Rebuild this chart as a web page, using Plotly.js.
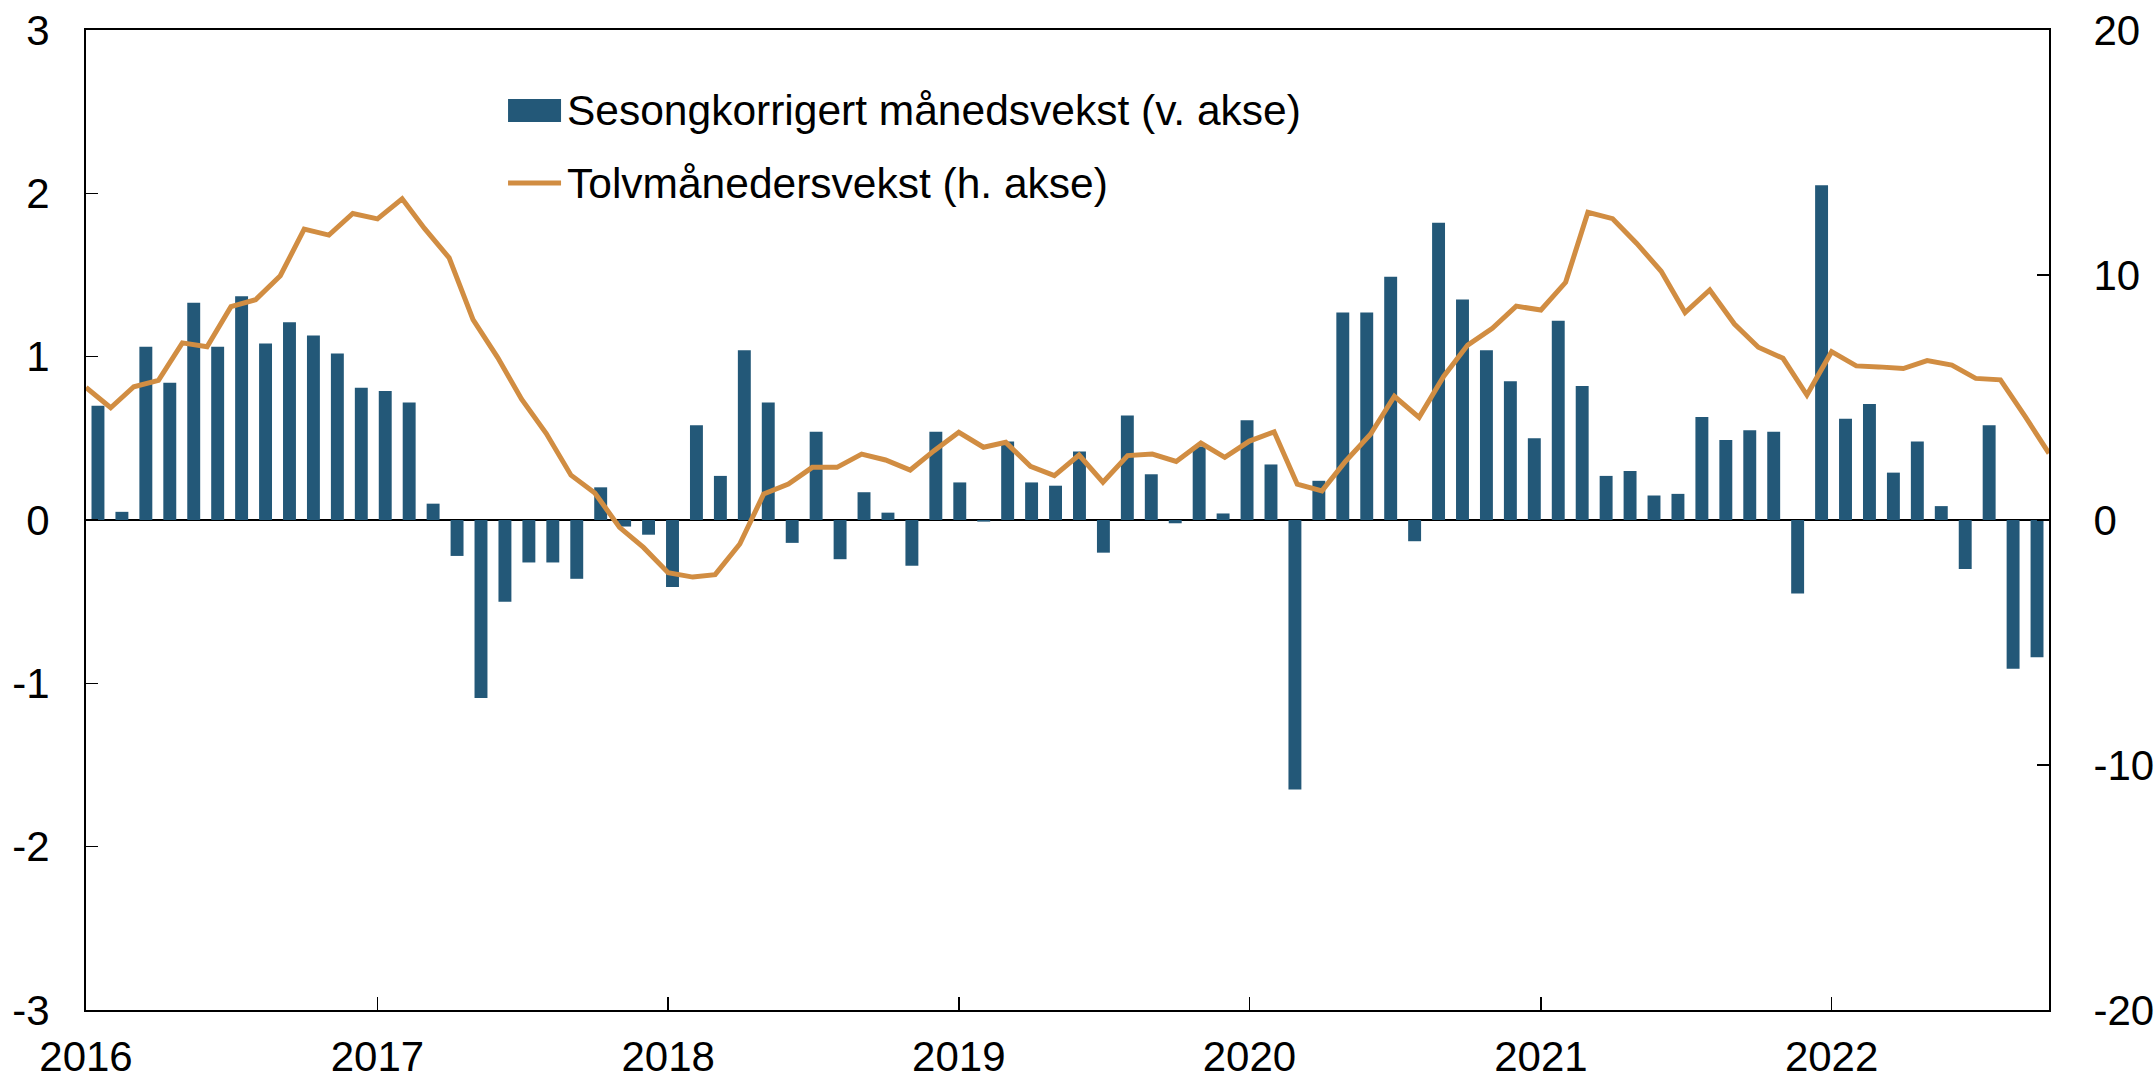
<!DOCTYPE html>
<html>
<head>
<meta charset="utf-8">
<script src="https://cdn.plot.ly/plotly-3.0.1.min.js"></script>
<style>
  html, body { margin: 0; padding: 0; background: #ffffff; overflow: hidden; }
  #chart { width: 2154px; height: 1081px; }
</style>
</head>
<body>
<div id="chart"></div>
<script>
// Months Jan 2016 - Oct 2022
const months = [
  '2016-01','2016-02','2016-03','2016-04','2016-05','2016-06','2016-07','2016-08','2016-09','2016-10','2016-11','2016-12',
  '2017-01','2017-02','2017-03','2017-04','2017-05','2017-06','2017-07','2017-08','2017-09','2017-10','2017-11','2017-12',
  '2018-01','2018-02','2018-03','2018-04','2018-05','2018-06','2018-07','2018-08','2018-09','2018-10','2018-11','2018-12',
  '2019-01','2019-02','2019-03','2019-04','2019-05','2019-06','2019-07','2019-08','2019-09','2019-10','2019-11','2019-12',
  '2020-01','2020-02','2020-03','2020-04','2020-05','2020-06','2020-07','2020-08','2020-09','2020-10','2020-11','2020-12',
  '2021-01','2021-02','2021-03','2021-04','2021-05','2021-06','2021-07','2021-08','2021-09','2021-10','2021-11','2021-12',
  '2022-01','2022-02','2022-03','2022-04','2022-05','2022-06','2022-07','2022-08','2022-09','2022-10'
];

// Sesongkorrigert månedsvekst (venstre akse)
const monthlyGrowth = [
  0.70, 0.05, 1.06, 0.84, 1.33, 1.06, 1.37, 1.08, 1.21, 1.13, 1.02, 0.81,
  0.79, 0.72, 0.10, -0.22, -1.09, -0.50, -0.26, -0.26, -0.36, 0.20, -0.04, -0.09,
  -0.41, 0.58, 0.27, 1.04, 0.72, -0.14, 0.54, -0.24, 0.17, 0.045, -0.28, 0.54,
  0.23, -0.01, 0.48, 0.23, 0.21, 0.42, -0.20, 0.64, 0.28, -0.02, 0.45, 0.04,
  0.61, 0.34, -1.65, 0.24, 1.27, 1.27, 1.49, -0.13, 1.82, 1.35, 1.04, 0.85,
  0.50, 1.22, 0.82, 0.27, 0.30, 0.15, 0.16, 0.63, 0.49, 0.55, 0.54, -0.45,
  2.05, 0.62, 0.71, 0.29, 0.48, 0.085, -0.30, 0.58, -0.91, -0.84
];

// Tolvmånedersvekst (høyre akse)
const yearlyGrowth = [
  5.41, 4.58, 5.44, 5.70, 7.23, 7.07, 8.71, 8.99, 9.97, 11.87, 11.63, 12.51,
  12.29, 13.11, 11.90, 10.70, 8.18, 6.63, 4.93, 3.53, 1.83, 1.10, -0.30, -1.12,
  -2.15, -2.33, -2.23, -0.98, 1.06, 1.47, 2.15, 2.15, 2.69, 2.45, 2.04, 2.83,
  3.58, 2.97, 3.17, 2.19, 1.81, 2.65, 1.54, 2.63, 2.69, 2.39, 3.14, 2.56,
  3.22, 3.60, 1.46, 1.19, 2.41, 3.50, 5.05, 4.19, 5.87, 7.14, 7.82, 8.73,
  8.57, 9.70, 12.56, 12.30, 11.30, 10.15, 8.47, 9.39, 8.00, 7.05, 6.60, 5.10,
  6.87, 6.29, 6.25, 6.18, 6.51, 6.32, 5.78, 5.72, 4.23, 2.72
];

const yearTicks = ['2016-01-01','2017-01-01','2018-01-01','2019-01-01','2020-01-01','2021-01-01','2022-01-01'];
const yearLabels = ['2016','2017','2018','2019','2020','2021','2022'];
const leftTicks = [-3, -2, -1, 0, 1, 2, 3];
const leftLabels = ['-3', '-2', '-1', '0', '1', '2', '3'];
const rightTicks = [-20, -10, 0, 10, 20];
const rightLabels = ['-20', '-10', '0', '10', '20'];

const seriesNames = ['Sesongkorrigert månedsvekst (v. akse)', 'Tolvmånedersvekst (h. akse)'];

const BAR_COLOR = '#235878';
const LINE_COLOR = '#d18d42';
const FONT = 'Liberation Sans, Arial, Helvetica, sans-serif';

const traces = [
  {
    type: 'bar',
    name: seriesNames[0],
    x: months,
    y: monthlyGrowth,
    xaxis: 'x',
    yaxis: 'y',
    marker: { color: BAR_COLOR, line: { width: 0 } },
    showlegend: false
  },
  {
    type: 'scatter',
    mode: 'lines',
    name: seriesNames[1],
    x: months.map(m => m + '-01'),
    y: yearlyGrowth,
    xaxis: 'x2',
    yaxis: 'y2',
    line: { color: LINE_COLOR, width: 5 },
    showlegend: false
  }
];

const tickFont = { family: FONT, size: 42, color: '#000' };

const layout = {
  width: 2154,
  height: 1081,
  margin: { l: 86, r: 105, t: 30, b: 71 },
  paper_bgcolor: '#ffffff',
  plot_bgcolor: '#ffffff',
  font: { family: FONT, color: '#000' },
  showlegend: false,
  bargap: 0.46,
  // category axis for the bars: draws the frame line only
  xaxis: {
    type: 'category',
    range: [-0.5, months.length - 0.5],
    showgrid: false,
    zeroline: false,
    showticklabels: false,
    ticks: '',
    showline: true,
    linecolor: '#000',
    linewidth: 2,
    mirror: true
  },
  // date axis carrying the year ticks and the line
  xaxis2: {
    type: 'date',
    overlaying: 'x',
    anchor: 'y',
    side: 'bottom',
    range: ['2016-01-01', '2022-10-01'],
    tickmode: 'array',
    tickvals: yearTicks,
    ticktext: yearLabels,
    ticks: 'inside',
    ticklen: 13,
    tickwidth: 1.5,
    tickcolor: '#000',
    showline: false,
    showgrid: false,
    zeroline: false,
    tickfont: tickFont,
    ticklabelstandoff: 18
  },
  yaxis: {
    range: [-3, 3],
    tickmode: 'array',
    tickvals: leftTicks,
    ticktext: leftLabels,
    ticks: 'inside',
    ticklen: 12,
    tickwidth: 1.5,
    tickcolor: '#000',
    showline: true,
    linecolor: '#000',
    linewidth: 2,
    showgrid: false,
    zeroline: true,
    zerolinecolor: '#000',
    zerolinewidth: 2,
    tickfont: tickFont,
    ticklabelstandoff: 26
  },
  yaxis2: {
    overlaying: 'y',
    side: 'right',
    anchor: 'x',
    range: [-20, 20],
    tickmode: 'array',
    tickvals: rightTicks,
    ticktext: rightLabels,
    ticks: 'inside',
    ticklen: 12,
    tickwidth: 1.5,
    tickcolor: '#000',
    showline: true,
    linecolor: '#000',
    linewidth: 2,
    showgrid: false,
    zeroline: false,
    tickfont: tickFont,
    ticklabelstandoff: 34
  },
  shapes: [
    { type: 'rect', xref: 'paper', yref: 'paper', x0: 0.2150, x1: 0.2420, y0: 0.9061, y1: 0.9296,
      fillcolor: BAR_COLOR, line: { width: 0 } },
    { type: 'line', xref: 'paper', yref: 'paper', x0: 0.2150, x1: 0.2420, y0: 0.8439, y1: 0.8439,
      line: { color: LINE_COLOR, width: 5 } }
  ],
  annotations: [
    { xref: 'paper', yref: 'paper', x: 0.2440, y: 0.9175, xanchor: 'left', yanchor: 'middle',
      text: seriesNames[0], showarrow: false, font: { family: FONT, size: 42.5, color: '#000' } },
    { xref: 'paper', yref: 'paper', x: 0.2440, y: 0.8430, xanchor: 'left', yanchor: 'middle',
      text: seriesNames[1], showarrow: false, font: { family: FONT, size: 42.5, color: '#000' } }
  ]
};

Plotly.newPlot('chart', traces, layout, { displayModeBar: false, staticPlot: true });
</script>
</body>
</html>
